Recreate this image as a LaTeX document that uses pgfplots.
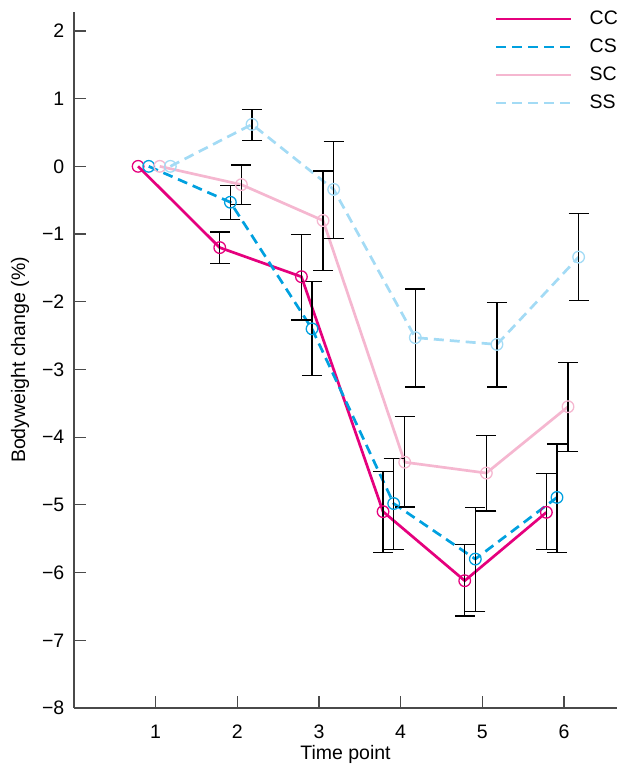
\documentclass[border=0pt]{standalone}
\usepackage{pgfplots}
\pgfplotsset{compat=1.18}
\usepackage{fontspec}
\setmainfont{Liberation Sans}
\definecolor{cc}{HTML}{E5007D}
\definecolor{cs}{HTML}{00A0DF}
\definecolor{sc}{HTML}{F5B7D0}
\definecolor{ss}{HTML}{A3DBF5}
\definecolor{axgray}{HTML}{4A4A4A}
\begin{document}
\fontsize{19.5}{23}\selectfont
\begin{tikzpicture}
\useasboundingbox (0,0) rectangle (617pt,765pt);
\begin{axis}[
  at={(74pt,57pt)}, anchor=south west,
  scale only axis, width=543pt, height=696pt,
  xmin=0, xmax=6.65, ymin=-8, ymax=2.28,
  axis x line=bottom, axis y line=left,
  axis line style={-, axgray, line width=1.3pt},
  tick align=inside, major tick length=12pt,
  tick style={axgray, line width=1.2pt},
  xtick={1,2,3,4,5,6},
  ytick={-8,-7,-6,-5,-4,-3,-2,-1,0,1,2},
  yticklabels={−8,−7,−6,−5,−4,−3,−2,−1,0,1,2},
  xticklabels={1,2,3,4,5,6},
  xticklabel style={yshift=-10pt},
  yticklabel style={xshift=-3pt},
  xlabel={Time point}, ylabel={Bodyweight change (\%)},
  every axis x label/.style={at={(rel axis cs:0.5,0)}, anchor=base, yshift=-51pt},
  every axis y label/.style={at={(rel axis cs:0,0.5)}, anchor=center, rotate=90, yshift=54pt},
  clip=false,
  legend style={draw=none, fill=none, at={(0.775,1.005)}, anchor=north west,
    row sep=7.5pt, inner sep=0pt, font=\fontsize{19.5}{23}\selectfont},
  legend cell align=left,
  legend image code/.code={\draw[#1, mark=none] (0pt,0pt) -- (75pt,0pt); \path (90pt,0pt);},
  mark size=5.8pt,
]
% CC
\addplot[cc, line width=2.7pt, mark=o, mark options={solid, line width=1.3pt}] coordinates {
 (0.785,0) (1.785,-1.20) (2.785,-1.63) (3.785,-5.10) (4.785,-6.12) (5.785,-5.11)};
\addlegendentry{CC}
% CS
\addplot[cs, line width=2.7pt, dash pattern=on 10pt off 6pt, mark=o, mark options={solid, line width=1.3pt}] coordinates {
 (0.915,0) (1.915,-0.53) (2.915,-2.40) (3.915,-4.98) (4.915,-5.80) (5.915,-4.89)};
\addlegendentry{CS}
% SC
\addplot[sc, line width=2.7pt, mark=o, mark options={solid, line width=1.3pt}] coordinates {
 (1.05,0) (2.05,-0.27) (3.05,-0.80) (4.05,-4.37) (5.05,-4.53) (6.05,-3.55)};
\addlegendentry{SC}
% SS
\addplot[ss, line width=2.7pt, dash pattern=on 10pt off 6pt, mark=o, mark options={solid, line width=1.3pt}] coordinates {
 (1.18,0) (2.18,0.62) (3.18,-0.34) (4.18,-2.53) (5.18,-2.63) (6.18,-1.34)};
\addlegendentry{SS}
% error bars
\pgfplotsset{errstyle/.style={forget plot, only marks, mark=*, mark size=0pt, black,
  error bars/.cd, y dir=both, y explicit,
  error bar style={black, line width=1.2pt},
  error mark options={rotate=90, mark size=10pt, line width=1.2pt, black}}}
\addplot[errstyle] table[x=x, y=y, y error plus=ep, y error minus=em] {
x y ep em
1.785 -1.20 0.23 0.23
2.785 -1.63 0.62 0.64
3.785 -5.10 0.59 0.60
4.785 -6.12 0.53 0.52
5.785 -5.11 0.57 0.55
};
\addplot[errstyle] table[x=x, y=y, y error plus=ep, y error minus=em] {
x y ep em
1.915 -0.53 0.25 0.26
2.915 -2.40 0.70 0.69
3.915 -4.98 0.67 0.68
4.915 -5.80 0.76 0.77
5.915 -4.89 0.79 0.81
};
\addplot[errstyle] table[x=x, y=y, y error plus=ep, y error minus=em] {
x y ep em
2.05 -0.27 0.29 0.29
3.05 -0.80 0.73 0.74
4.05 -4.37 0.68 0.66
5.05 -4.53 0.55 0.56
6.05 -3.55 0.65 0.66
};
\addplot[errstyle] table[x=x, y=y, y error plus=ep, y error minus=em] {
x y ep em
2.18 0.62 0.22 0.24
3.18 -0.34 0.71 0.73
4.18 -2.53 0.72 0.73
5.18 -2.63 0.62 0.63
6.18 -1.34 0.64 0.64
};
\end{axis}
\end{tikzpicture}
\end{document}
